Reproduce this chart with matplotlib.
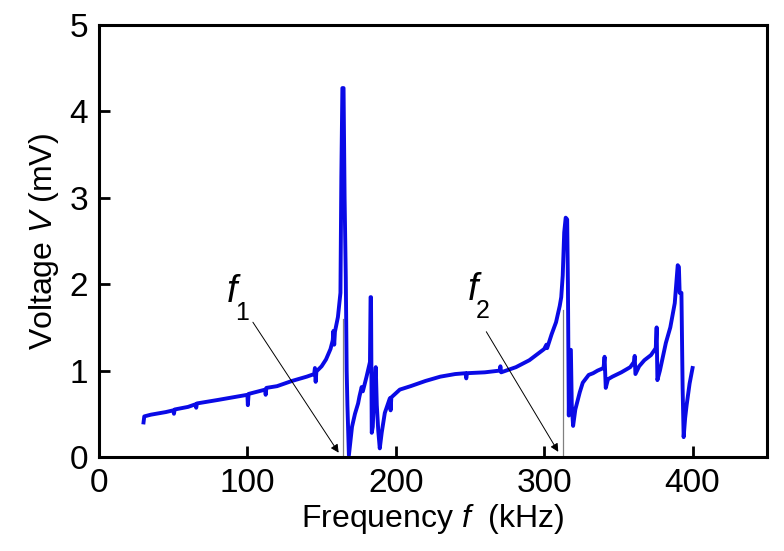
import matplotlib
matplotlib.use('Agg')
import matplotlib.pyplot as plt

plt.rcParams['font.family'] = ['Liberation Sans', 'DejaVu Sans']
plt.rcParams['mathtext.fontset'] = 'custom'
plt.rcParams['mathtext.rm'] = 'Liberation Sans'
plt.rcParams['mathtext.it'] = 'Liberation Sans:italic'

# frequency (kHz) and voltage (mV)
freq = [30, 30.5, 35, 45, 50, 50.5, 51, 60, 65, 65.5, 66, 80, 90, 100, 100.3, 100.8,
        112, 112.3, 112.8, 120, 130, 140, 145, 145.5, 146, 146.5, 150, 153, 156,
        157.5, 158, 158.5, 159, 161, 162.7, 163.3, 164, 164.8, 165.5, 166.3, 166.9,
        167.4, 168.4, 169.2, 170.5, 172.5, 174.6, 175.5, 177, 177.8, 180.3, 182.6,
        183.0, 183.3, 183.8, 184.5, 185.5, 186.5, 187.2, 188.2, 189.2, 190.5, 192.6,
        196, 196.5, 197, 202.7, 210, 220, 230, 240, 247, 247.5, 248, 260, 270, 270.5,
        271, 281, 290, 300, 301.5, 302, 305, 308, 310.5, 311.5, 312.5, 313.5, 314.5,
        315.5, 316, 316.6, 317.3, 318, 318.6, 319.5, 321, 324, 326, 330, 333, 336,
        340, 340.7, 341.5, 343, 346, 352, 358, 360.5, 361, 361.5, 364, 367.5, 372,
        375.2, 375.8, 376.3, 378, 382, 385, 388, 390, 390.8, 391.3, 392.5, 393.3,
        394, 395, 396, 398, 400]
volt = [0.40, 0.47, 0.49, 0.52, 0.54, 0.50, 0.55, 0.58, 0.61, 0.57, 0.62, 0.66, 0.69,
        0.72, 0.60, 0.73, 0.78, 0.72, 0.80, 0.82, 0.88, 0.93, 0.96, 1.03, 0.87, 0.99,
        1.05, 1.13, 1.25, 1.35, 1.46, 1.30, 1.45, 1.62, 1.90, 3.24, 4.27, 4.27, 3.0,
        2.08, 1.0, 0.6, 0.02, 0.15, 0.35, 0.50, 0.62, 0.70, 0.81, 0.76, 0.93, 1.10,
        1.85, 1.85, 0.28, 0.35, 0.8, 1.04, 0.6, 0.3, 0.10, 0.28, 0.51, 0.68, 0.54,
        0.69, 0.78, 0.82, 0.88, 0.93, 0.96, 0.97, 0.91, 0.97, 0.98, 1.0, 1.05, 0.98,
        1.04, 1.12, 1.25, 1.30, 1.26, 1.42, 1.56, 1.75, 1.85, 2.1, 2.6, 2.77, 2.75,
        2.0, 0.48, 1.24, 1.24, 0.6, 0.36, 0.55, 0.75, 0.86, 0.95, 0.97, 1.0, 1.03,
        1.16, 0.8, 0.9, 0.93, 0.98, 1.04, 1.10, 1.17, 0.96, 1.05, 1.12, 1.18, 1.26,
        1.50, 0.89, 1.0, 1.32, 1.5, 1.78, 2.22, 2.2, 1.9, 1.9, 0.8, 0.23, 0.45, 0.6,
        0.85, 1.03]

# resonance markers
res_freq = [164.3, 312.5]
res_top = [1.6, 1.7]
res_labels = ['1', '2']
label_pos = [(89.6, 1.91), (252, 1.93)]
arrow_start = [(103.7, 1.56), (261, 1.45)]
arrow_end = [(161.5, 0.05), (309.5, 0.06)]

fig = plt.figure(figsize=(7.84, 5.51), dpi=100)
ax = fig.add_axes([0.1263, 0.1706, 0.8517, 0.784])

for fr, top in zip(res_freq, res_top):
    ax.plot([fr, fr], [0, top], color='#808080', lw=0.9, zorder=1)

ax.plot(freq, volt, color='#0A0AE6', lw=2.8, zorder=2, solid_joinstyle='round')

for lab, (lx, ly), st, en in zip(res_labels, label_pos, arrow_start, arrow_end):
    ax.text(lx, ly, 'f', fontsize=27, style='italic', ha='center', va='center')
    ax.text(lx + 6.7, ly - 0.24, lab, fontsize=18, ha='center', va='center')
    ax.annotate('', xy=en, xytext=st,
                arrowprops=dict(arrowstyle='-|>', color='black', lw=0.7,
                                mutation_scale=12, shrinkA=0, shrinkB=0))

ax.set_xlim(0, 450)
ax.set_ylim(0, 5)
ax.set_xticks([0, 100, 200, 300, 400])
ax.set_yticks([0, 1, 2, 3, 4, 5])
ax.tick_params(direction='in', length=8, width=2, labelsize=24, pad=8,
               top=False, right=False)
for sp in ax.spines.values():
    sp.set_linewidth(2.2)

ax.set_xlabel('Frequency $f$  (kHz)', fontsize=23, labelpad=2)
ax.set_ylabel('Voltage $V$ (mV)', fontsize=23, labelpad=6)

fig.savefig('out.png', dpi=100)
